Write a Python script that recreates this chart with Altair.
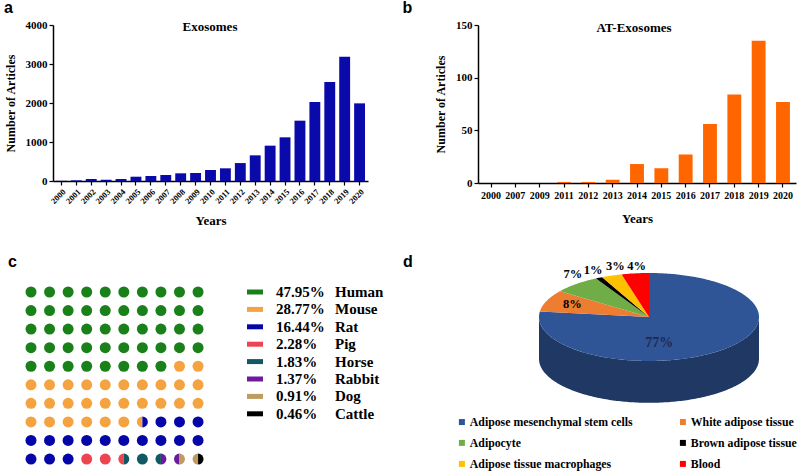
import altair as alt
import numpy as np
import pandas as pd

SERIF = "Liberation Serif"
SANS = "Liberation Sans"

# ---------------- data ----------------
years_a = [str(y) for y in range(2000, 2021)]
articles_a = [5, 17, 50, 34, 50, 110, 128, 154, 197, 205, 282, 325, 460, 658, 906,
              1120, 1547, 2026, 2538, 3188, 1991]

years_b = ["2000", "2007", "2009", "2011", "2012", "2013", "2014", "2015", "2016",
           "2017", "2018", "2019", "2020"]
articles_b = [0, 0, 0, 1, 1, 3, 18, 14, 27, 56, 84, 135, 77]

species = ["Human", "Mouse", "Rat", "Pig", "Horse", "Rabbit", "Dog", "Cattle"]
species_pct = [47.95, 28.77, 16.44, 2.28, 1.83, 1.37, 0.91, 0.46]
species_colors = ["#1A801A", "#F5A340", "#0606A8", "#EE4450", "#0F5A62",
                  "#6C1A9E", "#BF9B5F", "#000000"]

sources = ["Adipose mesenchymal stem cells", "White adipose tissue", "Adipocyte",
           "Brown adipose tissue", "Adipose tissue macrophages", "Blood"]
source_pct = [77, 8, 7, 1, 3, 4]
source_colors = ["#2F5597", "#ED7D31", "#70AD47", "#000000", "#FFC000", "#FF0000"]
side_shades = ["#1F3864", "#A5501A", "#4E7A30", "#000000", "#B38600", "#B00000"]
# label placement style (radius factors in x / y)
label_r = [(0.14, 0.8), (0.75, 0.8), (1.045, 1.29), (1.12, 1.19), (0.9, 1.23), (0.9, 1.17)]
label_colors = ["#1F2A4F", "#000000", "#000000", "#000000", "#000000", "#000000"]
label_sizes = [14, 12.5, 12.5, 12.5, 12.5, 12.5]
THICK = 0.95


def axis(**kw):
    base = dict(domainColor="black", domainWidth=1.5, tickColor="black", tickWidth=1.2,
                tickSize=4, grid=False, labelFont=SERIF, labelFontWeight="bold",
                labelColor="black", titleFont=SERIF, titleFontWeight="bold",
                titleColor="black")
    base.update(kw)
    return alt.Axis(**base)


def letter(ch, x, y):
    return alt.Chart(pd.DataFrame({"t": [ch]})).mark_text(
        font=SANS, fontWeight="bold", fontSize=16, align="left",
        baseline="alphabetic", color="black"
    ).encode(text="t:N", x=alt.value(x), y=alt.value(y))


def label(txt, x, y, size=13):
    return alt.Chart(pd.DataFrame({"t": [txt]})).mark_text(
        font=SERIF, fontWeight="bold", fontSize=size, align="center",
        baseline="middle", color="black"
    ).encode(text="t:N", x=alt.value(x), y=alt.value(y))


# ---------------- panel a ----------------
df_a = pd.DataFrame({"year": years_a, "articles": articles_a})
bars_a = alt.Chart(df_a).mark_bar(color="#0A0AAA").encode(
    x=alt.X("year:N", sort=years_a, title="Years",
            scale=alt.Scale(paddingInner=0.27, paddingOuter=0.2),
            axis=axis(labelAngle=-45, labelFontSize=8.5, labelPadding=2,
                      titleFontSize=13, titlePadding=9)),
    y=alt.Y("articles:Q", title="Number of Articles",
            scale=alt.Scale(domain=[0, 4000], nice=False),
            axis=axis(values=[0, 1000, 2000, 3000, 4000], format="d", labelFontSize=11,
                      labelPadding=2, titleFontSize=12, titlePadding=8)),
)
panel_a = alt.layer(bars_a, label("Exosomes", 157, 2), letter("a", -49, -12)).properties(
    width=315, height=156)

# ---------------- panel b ----------------
df_b = pd.DataFrame({"year": years_b, "articles": articles_b})
bars_b = alt.Chart(df_b).mark_bar(color="#FF6600").encode(
    x=alt.X("year:N", sort=years_b, title="Years",
            scale=alt.Scale(paddingInner=0.43, paddingOuter=0.25),
            axis=axis(labelAngle=0, labelFontSize=10, labelPadding=3,
                      titleFontSize=13, titlePadding=12)),
    y=alt.Y("articles:Q", title="Number of Articles",
            scale=alt.Scale(domain=[0, 150], nice=False),
            axis=axis(values=[0, 50, 100, 150], format="d", labelFontSize=11,
                      labelPadding=2, titleFontSize=12, titlePadding=8)),
)
panel_b = alt.layer(bars_b, label("AT-Exosomes", 156, 3), letter("b", -75.5, -12)).properties(
    width=318, height=158)

# ---------------- panel c (waffle) ----------------
cum_half = np.round(np.cumsum(species_pct) * 2).astype(int)
owner = np.searchsorted(cum_half, np.arange(200), side="right")
recs = []
for d in range(100):
    l, r = owner[2 * d], owner[2 * d + 1]
    row, col = d // 10 + 1, d % 10 + 1
    if l == r:
        recs.append((row, col, species[l], 0.0, 2 * np.pi))
    else:
        recs.append((row, col, species[l], np.pi, 2 * np.pi))
        recs.append((row, col, species[r], 0.0, np.pi))
df_c = pd.DataFrame(recs, columns=["row", "col", "species", "t0", "t1"])
color_c = alt.Scale(domain=species, range=species_colors)

PITCH = 18.56      # px per waffle cell
LPITCH = 17.4      # px per legend row
WC, HC = 160, 195
cx0 = 1 + 22 / PITCH
cy0 = 1 - 19 / PITCH
ly0 = -19 / LPITCH

dots = alt.Chart(df_c).mark_arc(radius=5.5).encode(
    x=alt.X("col:Q", scale=alt.Scale(domain=[cx0, cx0 + WC / PITCH], nice=False, zero=False),
            axis=None),
    y=alt.Y("row:Q", scale=alt.Scale(domain=[cy0, cy0 + HC / PITCH], nice=False, zero=False,
                                     reverse=True), axis=None),
    theta=alt.Theta("t0:Q", scale=None, stack=False),
    theta2="t1:Q",
    color=alt.Color("species:N", scale=color_c, legend=None),
)

df_cl = pd.DataFrame({"rank": list(range(len(species))), "species": species,
                      "pct": [f"{p:.2f}%" for p in species_pct]})
ly = alt.Scale(domain=[ly0, ly0 + HC / LPITCH], nice=False, zero=False, reverse=True)
sw = alt.Chart(df_cl).mark_rule(strokeWidth=5).encode(
    x=alt.value(194), x2=alt.value(210),
    y=alt.Y("rank:Q", scale=ly, axis=None),
    color=alt.Color("species:N", scale=color_c, legend=None),
)
pct_t = alt.Chart(df_cl).mark_text(font=SERIF, fontWeight="bold", fontSize=15, align="left",
                                   baseline="middle", color="black").encode(
    x=alt.value(223), y=alt.Y("rank:Q", scale=ly, axis=None), text="pct:N")
name_t = alt.Chart(df_cl).mark_text(font=SERIF, fontWeight="bold", fontSize=15, align="left",
                                    baseline="middle", color="black").encode(
    x=alt.value(282), y=alt.Y("rank:Q", scale=ly, axis=None), text="species:N")

panel_c = alt.layer(dots, sw, pct_t, name_t, letter("c", -45, -6)).resolve_scale(
    y="independent").properties(width=WC, height=HC)

# ---------------- panel d (3D-look pie) ----------------
tops, sides, labs = [], [], []
start = 0.0
for k, (name, p) in enumerate(zip(sources, source_pct)):
    a0 = 2 * np.pi * start / 100
    a1 = 2 * np.pi * (start + p) / 100
    start += p
    n = max(2, int(np.ceil(np.degrees(a1 - a0))))
    angs = np.linspace(a0, a1, n + 1)
    tops.append(dict(source=name, i=0, x=0.0, y=0.0))
    for j, t in enumerate(angs):
        tops.append(dict(source=name, i=j + 1, x=float(np.sin(t)), y=float(np.cos(t))))
    lo, hi = max(a0, np.pi / 2), min(a1, 3 * np.pi / 2)
    if hi > lo:
        sa = np.linspace(lo, hi, int(np.ceil(np.degrees(hi - lo))) + 1)
        pts = [(np.sin(t), np.cos(t)) for t in sa] + \
              [(np.sin(t), np.cos(t) - THICK) for t in sa[::-1]]
        for j, (x, y) in enumerate(pts):
            sides.append(dict(source=name, i=j, x=float(x), y=float(y), shade=side_shades[k]))
    mid = (a0 + a1) / 2
    fx, fy = label_r[k]
    labs.append(dict(x=fx * np.sin(mid), y=fy * np.cos(mid), text=f"{p}%",
                     lc=label_colors[k], fs=label_sizes[k]))

df_top = pd.DataFrame(tops)
df_side = pd.DataFrame(sides)
df_lab = pd.DataFrame(labs)
RX = 110.0
WD, HD = 318, 136.4
xs = alt.Scale(domain=[-171 / RX, -171 / RX + WD / RX], nice=False, zero=False)
ys = alt.Scale(domain=[-2.1, 1.0], nice=False, zero=False)

side = alt.Chart(df_side).mark_line(filled=True, interpolate="linear-closed", strokeWidth=0).encode(
    x=alt.X("x:Q", scale=xs, axis=None), y=alt.Y("y:Q", scale=ys, axis=None),
    order="i:Q", detail="source:N",
    color=alt.Color("shade:N", scale=None, legend=None),
)
top = alt.Chart(df_top).mark_line(filled=True, interpolate="linear-closed", strokeWidth=0).encode(
    x=alt.X("x:Q", scale=xs, axis=None), y=alt.Y("y:Q", scale=ys, axis=None),
    order="i:Q",
    color=alt.Color("source:N", scale=alt.Scale(domain=sources, range=source_colors),
                    legend=alt.Legend(orient="none", legendX=-22, legendY=143, columns=2,
                                      direction="horizontal",
                                      columnPadding=44, rowPadding=8, symbolType="square",
                                      symbolSize=36, symbolStrokeWidth=0, labelFont=SERIF,
                                      labelFontWeight="bold", labelFontSize=11.8,
                                      labelColor="black", labelLimit=0, labelOffset=2,
                                      padding=0, title=None)),
)
txt = alt.Chart(df_lab).mark_text(font=SERIF, fontWeight="bold", align="center",
                                  baseline="middle").encode(
    x=alt.X("x:Q", scale=xs, axis=None), y=alt.Y("y:Q", scale=ys, axis=None),
    text="text:N",
    color=alt.Color("lc:N", scale=None, legend=None),
    size=alt.Size("fs:Q", scale=None, legend=None),
)
panel_d = alt.layer(side, top, txt, letter("d", -75, -6)).resolve_scale(
    color="independent").properties(width=WD, height=HD)

chart = alt.concat(panel_a, panel_b, panel_c, panel_d, columns=2, align="all",
                   spacing={"row": 26, "column": 18}).properties(
    padding={"left": 4, "top": 0, "right": 0, "bottom": 0}, background="white"
).configure_view(stroke=None)

chart.save("out.html", embed_options={"renderer": "svg", "actions": False})
